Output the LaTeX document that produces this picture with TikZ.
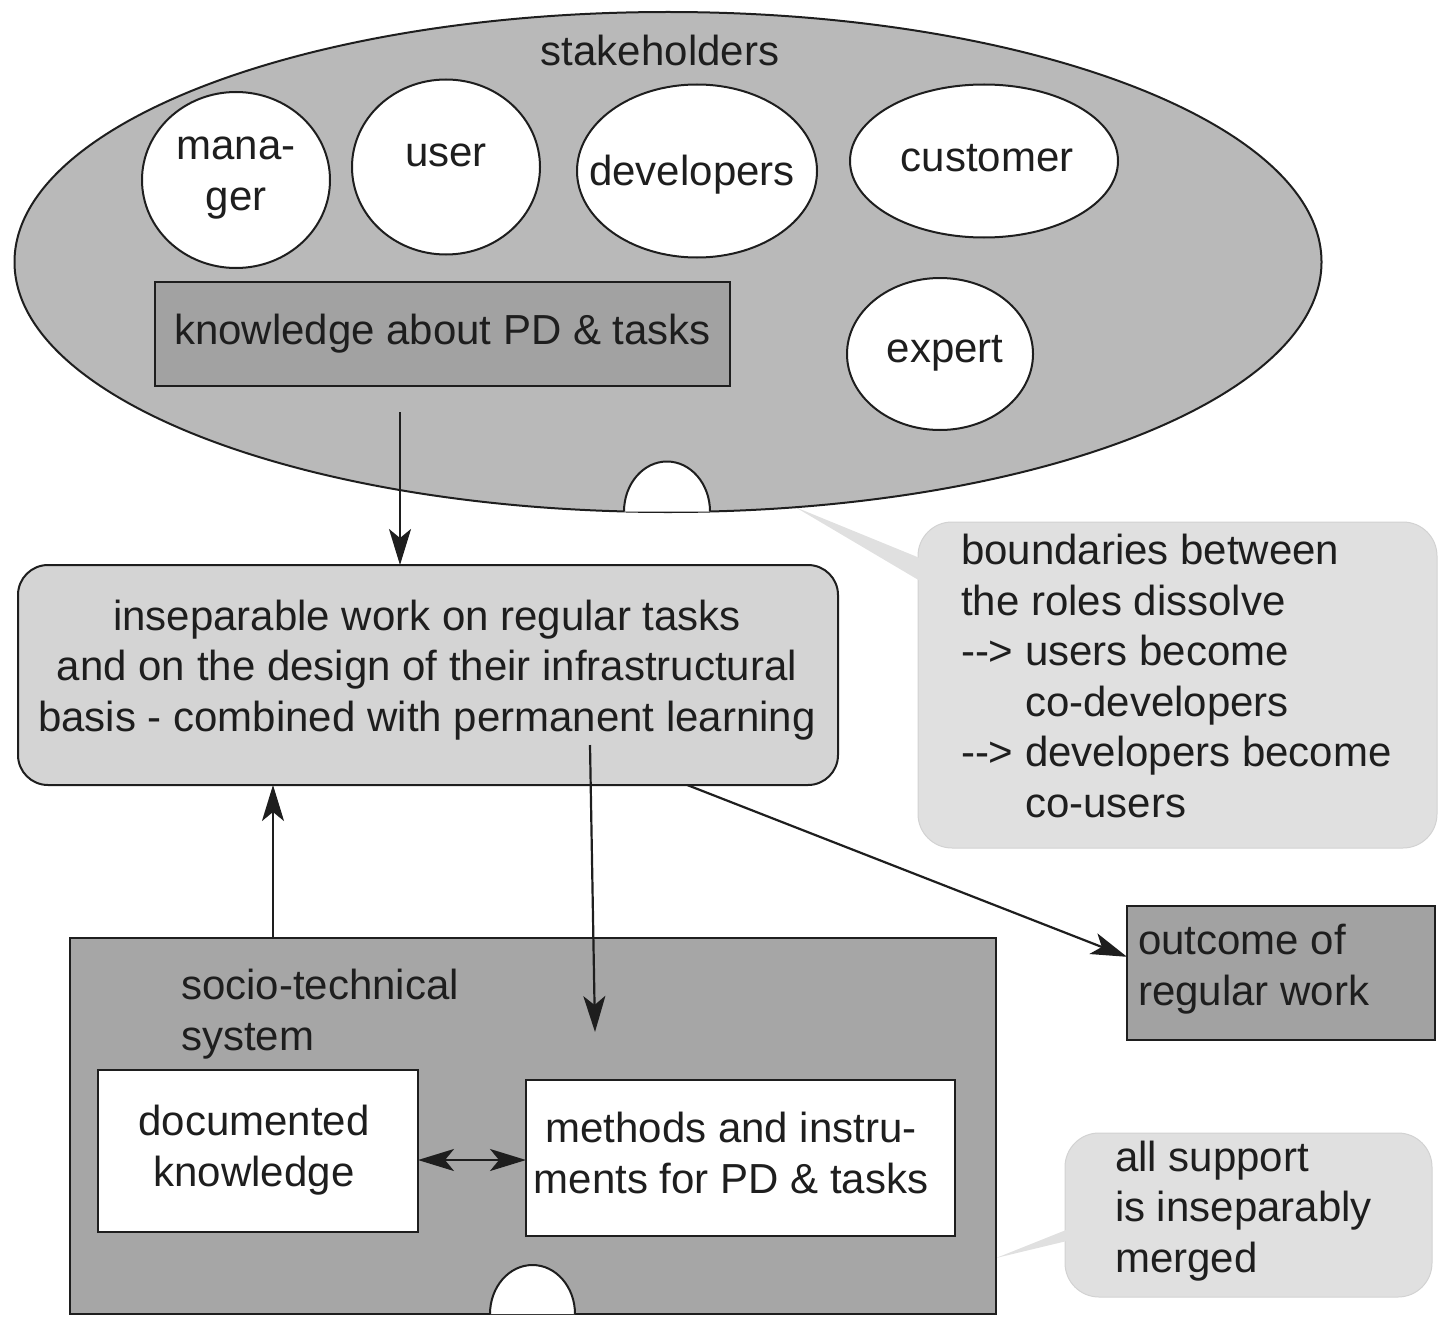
\documentclass[tikz,border=0pt]{standalone}
\usepackage{fontspec}
\setmainfont{Liberation Sans}
\usetikzlibrary{shapes.geometric,arrows.meta,calc}
\definecolor{ink}{HTML}{1E1E1E}
\definecolor{stakefill}{HTML}{B9B9B9}
\definecolor{darkfill}{HTML}{A2A2A2}
\definecolor{workfill}{HTML}{D4D4D4}
\definecolor{sysfill}{HTML}{A6A6A6}
\definecolor{notefill}{HTML}{E0E0E0}
\definecolor{noteline}{HTML}{D2D2D2}
\begin{document}
\begin{tikzpicture}[x=1pt,y=-1pt,
  every node/.style={font=\fontsize{42}{50.5}\selectfont, text=ink, inner sep=0pt, outer sep=0pt},
  role/.style={ellipse, draw=ink, fill=white, line width=2pt},
  darkbox/.style={rectangle, draw=ink, fill=darkfill, line width=2pt},
  whitebox/.style={rectangle, draw=ink, fill=white, line width=2pt},
  note/.style={rectangle, rounded corners=34pt, draw=noteline, fill=notefill, line width=1pt},
  pointer/.style={fill=notefill},
  tip/.tip={Stealth[length=36pt,width=22pt,inset=9pt]},
  arr/.style={draw=ink, line width=2.2pt, -tip},
  dbl/.style={draw=ink, line width=2.2pt, tip-tip},
  notch/.style={draw=ink, fill=white, line width=2pt}]
\useasboundingbox (0,0) rectangle (1439,1316);
\clip (0,0) rectangle (1439,1316);

% callout notes with their pointers
\node[note, minimum width=519pt, minimum height=326pt] (c1) at (1177.5,685) {};
\coordinate (c1tip) at (795,507);
\fill[pointer] (c1tip) -- ($(c1.west)+(14,-122)$) -- ($(c1.west)+(14,-97)$) -- cycle;
\node[anchor=west, align=left] (c1text) at (961,676)
  {boundaries between\\the roles dissolve\\-{}-> users become\\\phantom{-{}->}\ co-developers\\-{}-> developers become\\\phantom{-{}->}\ co-users};

\node[note, minimum width=367pt, minimum height=164pt] (c2) at (1248.5,1215) {};
\coordinate (c2tip) at (996,1258);
\fill[pointer] (c2tip) -- ($(c2.west)+(6,13)$) -- ($(c2.west)+(6,25)$) -- cycle;
\node[anchor=west, align=left] (c2text) at (1115,1211)
  {all support\\is inseparably\\merged};

% stakeholders
\node[ellipse, draw=ink, fill=stakefill, line width=2pt, minimum width=1307pt, minimum height=500pt] (stake) at (668,262) {};
\node (staketext) at (660,50) {stakeholders};
\node[role, minimum width=188pt, minimum height=176pt] (manager) at (236,180) {};
\node[align=center] (managertext) at (236,178) {mana-\\ger};
\node[role, minimum width=188pt, minimum height=175pt] (user) at (446,167) {};
\node (usertext) at (446,155) {user};
\node[role, minimum width=240pt, minimum height=173pt] (dev) at (697,171) {};
\node (devtext) at (692,175) {developers};
\node[role, minimum width=268pt, minimum height=153pt] (customer) at (984,161) {};
\node (customertext) at (987,158) {customer};
\node[role, minimum width=186pt, minimum height=152pt] (expert) at (940,354) {};
\node (experttext) at (945,353) {expert};
\node[darkbox, minimum width=575pt, minimum height=104pt] (know) at (442.5,334) {knowledge about PD \& tasks};
\draw[notch] (624,511.5) arc[start angle=180, end angle=360, x radius=43, y radius=50];

% regular work
\node[rectangle, rounded corners=30pt, draw=ink, fill=workfill, line width=2pt,
      minimum width=820pt, minimum height=220pt] (work) at (428,675) {};
\node[align=center] (worktext) at (427,670)
  {inseparable work on regular tasks\\and on the design of their infrastructural\\basis - combined with permanent learning};

% outcome
\node[darkbox, minimum width=308pt, minimum height=134pt] (outcome) at (1281,973) {};
\node[anchor=west, align=left] (outcometext) at (1138,969) {outcome of\\regular work};

% socio-technical system
\node[rectangle, draw=ink, fill=sysfill, line width=2pt, minimum width=926pt, minimum height=376pt] (sys) at (533,1126) {};
\node[anchor=west, align=left] (systext) at (181,1014) {socio-technical\\system};
\node[whitebox, minimum width=320pt, minimum height=162pt] (doc) at (258,1151) {};
\node[align=center] (doctext) at (254,1150) {documented\\knowledge};
\node[whitebox, minimum width=429pt, minimum height=156pt] (meth) at (740.5,1158) {};
\node[align=center] (methtext) at (731,1153) {methods and instru-\\ments for PD \& tasks};
\draw[notch] (490,1314) arc[start angle=180, end angle=360, x radius=42.5, y radius=49];

% connectors
\coordinate (k0) at (400,412);
\draw[arr] (k0) -- (k0 |- work.north);
\coordinate (u0) at (273,0);
\draw[arr] (u0 |- sys.north) -- (u0 |- work.south);
\coordinate (d1) at (590,745);
\coordinate (d2) at (595,1032);
\draw[arr] (d1) -- (d2);
\draw[arr] (work.-23.6) -- (outcome.174.4);
\coordinate (dy) at (0,1160);
\draw[dbl] (doc.east |- dy) -- (meth.west |- dy);
\end{tikzpicture}
\end{document}
